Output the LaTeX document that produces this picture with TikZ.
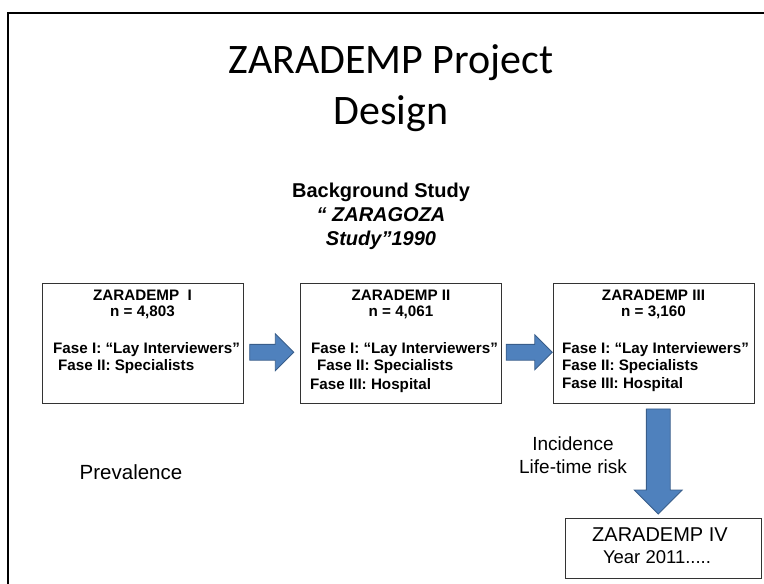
\documentclass[tikz,border=0pt]{standalone}
\usepackage{fontspec}
\setmainfont{Liberation Sans}
\newfontfamily\titlefont{Carlito}
\usepackage{xcolor}
\usetikzlibrary{shapes.arrows,calc}
\definecolor{arrowblue}{HTML}{4F81BD}
\definecolor{arrowedge}{HTML}{385D8A}
\tikzset{%
  stagebox/.style={draw=black!80, line width=0.9pt, minimum width=201pt, minimum height=120pt, inner sep=0pt},
  stagetxt/.style={font=\bfseries\fontsize{15.2}{17}\selectfont, inner sep=0pt},
  plaintxt/.style={font=\fontsize{19}{23}\selectfont, inner sep=0pt, align=center},
  blockarrow/.style={single arrow, fill=arrowblue, draw=arrowedge, line width=0.8pt,
    single arrow head indent=0pt, single arrow tip angle=90}
}

\begin{document}
\begin{tikzpicture}[x=1pt,y=-1pt]
\useasboundingbox (0,0) rectangle (764,584);
\draw[line width=2pt] (8,600) -- (8,13) -- (780,13);
% title and background study
\node[font=\titlefont\fontsize{42}{51}\selectfont, align=center, inner sep=0pt] (title) at (391,88) {ZARADEMP Project\\Design};
\node[font=\bfseries\fontsize{20}{24}\selectfont, align=center, inner sep=0pt] (bgstudy) at (381,216)
  {Background Study\\\itshape “ ZARAGOZA\\\itshape Study”1990};
% the three waves
\node[stagebox] (z1) at (142.5,343) {};
\node[stagebox] (z2) at (401,343.5) {};
\node[stagebox] (z3) at (653.5,343) {};
\node[stagetxt, anchor=base] (z1a) at (142.5,300) {ZARADEMP\ \ I};
\node[stagetxt, anchor=base] (z1b) at (142.5,316) {n = 4,803};
\node[stagetxt, anchor=base west] (z1c) at (53,353) {Fase I: “Lay Interviewers”};
\node[stagetxt, anchor=base west] (z1d) at (58,370) {Fase II: Specialists};
\node[stagetxt, anchor=base] (z2a) at (401,300) {ZARADEMP II};
\node[stagetxt, anchor=base] (z2b) at (401,316) {n = 4,061};
\node[stagetxt, anchor=base west] (z2c) at (311,353) {Fase I: “Lay Interviewers”};
\node[stagetxt, anchor=base west] (z2d) at (317,370) {Fase II: Specialists};
\node[stagetxt, anchor=base west] (z2e) at (310,389) {Fase III: Hospital};
\node[stagetxt, anchor=base] (z3a) at (653.5,300) {ZARADEMP III};
\node[stagetxt, anchor=base] (z3b) at (653.5,316) {n = 3,160};
\node[stagetxt, anchor=base west] (z3c) at (562,353) {Fase I: “Lay Interviewers”};
\node[stagetxt, anchor=base west] (z3d) at (562,370) {Fase II: Specialists};
\node[stagetxt, anchor=base west] (z3e) at (562,388) {Fase III: Hospital};
% follow-up wave
\node[draw=black!80, line width=0.9pt, minimum width=196pt, minimum height=60pt, inner sep=0pt] (z4) at (663,548) {};
\node[font=\fontsize{20}{22}\selectfont, inner sep=0pt] (z4a) at (660,535) {ZARADEMP IV};
\node[font=\fontsize{18.5}{20}\selectfont, inner sep=0pt] (z4b) at (657,557) {Year 2011.....};
% block arrows
\node[blockarrow, inner sep=7.5pt, minimum height=44pt, single arrow head extend=10.5pt] (a12)
  at ([xshift=-4pt,yshift=-9pt]$(z1.east)!0.5!(z2.west)$) {};
\node[blockarrow, inner sep=7.5pt, minimum height=46pt, single arrow head extend=9.5pt] (a23)
  at ([xshift=-2pt,yshift=-9pt]$(z2.east)!0.5!(z3.west)$) {};
\node[blockarrow, shape border rotate=270, inner sep=11.5pt, minimum height=105pt, single arrow head extend=12pt] (a34)
  at ([yshift=5pt]$(z3.south)!0.5!(z4.north)$) {};
% labels
\node[plaintxt, font=\fontsize{20.5}{23}\selectfont] (prev) at (131,472) {Prevalence};
\node[plaintxt] (inc) at (573,455) {Incidence\\Life-time risk};
\end{tikzpicture}
\end{document}
